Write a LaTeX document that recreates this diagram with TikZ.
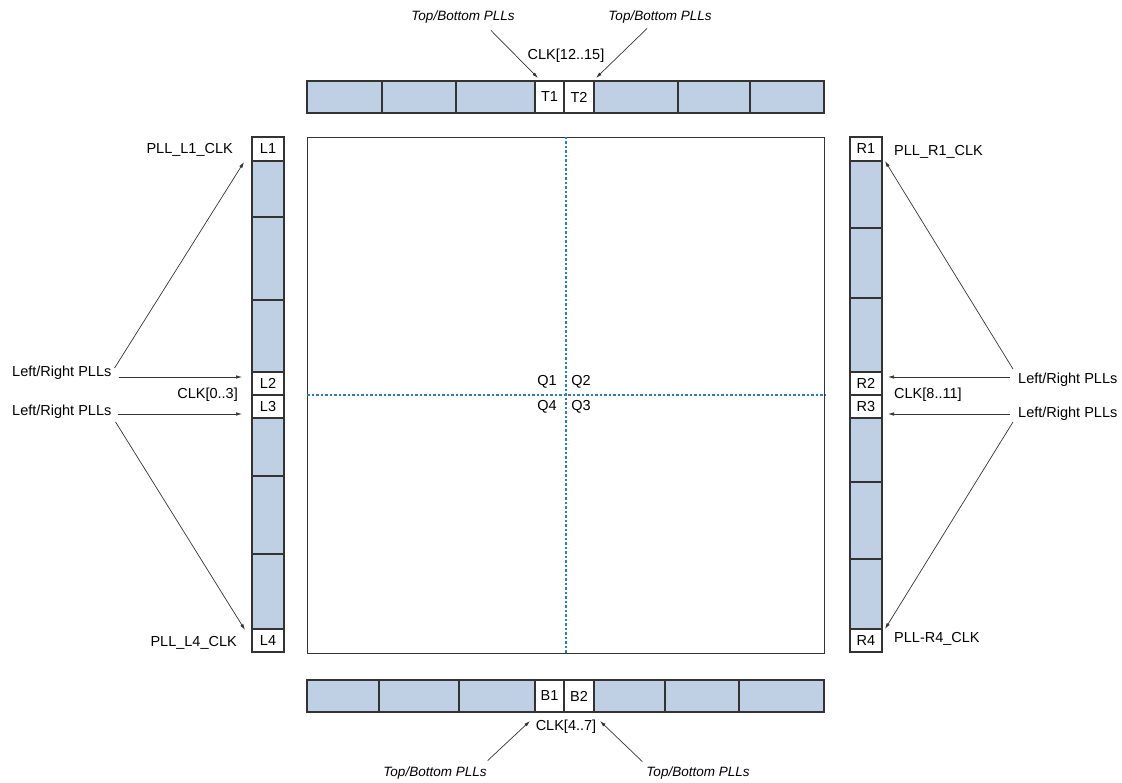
\documentclass[tikz,border=0pt]{standalone}
\usepackage{fontspec}
\setmainfont{Liberation Sans}
\usetikzlibrary{arrows.meta,positioning}
\definecolor{cellblue}{HTML}{BFCFE4}
\definecolor{edge}{HTML}{333333}
\definecolor{qblue}{HTML}{2E7DC2}
\tikzset{
  cell/.style={draw=edge, fill=cellblue, line width=1.2pt},
  pin/.style={draw=edge, fill=white, line width=1.2pt, inner sep=0pt, outer sep=0pt, anchor=north west, font=\fontsize{14.5}{17}\selectfont},
  lbl/.style={inner sep=0pt, font=\fontsize{14.5}{17}\selectfont},
  plls/.style={inner sep=0pt, font=\fontsize{13.5}{16}\selectfont\itshape},
  sig/.style={-{Latex[length=6pt,width=3.5pt]}, line width=0.7pt, draw=edge},
  quad/.style={draw=qblue, line width=1.6pt, dash pattern=on 2.5pt off 2pt},
}
\begin{document}
\begin{tikzpicture}[x=1pt,y=-1pt]
    \useasboundingbox (0,0) rectangle (1122,783);
    % core
    \node[draw=edge, line width=1.3pt, minimum width=517pt, minimum height=516pt, anchor=north west, inner sep=0pt] (core) at (307,137) {};
    \draw[quad] (core.north) -- (core.south);
    \draw[quad] ([yshift=0.5]core.west) -- ([yshift=0.5]core.east);
    \node[lbl] (q1) at (547,382) {Q1};
    \node[lbl] (q2) at (581,382) {Q2};
    \node[lbl] (q4) at (547,407) {Q4};
    \node[lbl] (q3) at (581,407) {Q3};
    % top and bottom rows
    \foreach \a/\b in {307/382, 382/456, 456/535, 594/678, 678/750, 750/824}
      \draw[cell] (\a,81) rectangle (\b,113);
    \foreach \a/\b in {307/379, 379/459, 459/535, 594/665, 665/739, 739/824}
      \draw[cell] (\a,680) rectangle (\b,712);
    \node[pin, minimum width=29pt, minimum height=32pt] (t1) at (535,81) {T1};
    \node[pin, minimum width=30pt, minimum height=32pt] (t2) at (564,81) {T2};
    \node[pin, minimum width=29pt, minimum height=32pt] (b1) at (535,680) {B1};
    \node[pin, minimum width=30pt, minimum height=32pt] (b2) at (564,680) {B2};
    % left and right columns
    \foreach \a/\b in {161/217, 217/300, 300/372, 418/476, 476/554, 554/629}
      \draw[cell] (252,\a) rectangle (284,\b);
    \foreach \a/\b in {161/228, 228/298, 298/372, 418/482, 482/559, 559/629}
      \draw[cell] (850,\a) rectangle (882,\b);
    \node[pin, minimum width=32pt, minimum height=24pt] (l1) at (252,137) {L1};
    \node[pin, minimum width=32pt, minimum height=23pt] (l2) at (252,372) {L2};
    \node[pin, minimum width=32pt, minimum height=23pt] (l3) at (252,395) {L3};
    \node[pin, minimum width=32pt, minimum height=23pt] (l4) at (252,629) {L4};
    \node[pin, minimum width=32pt, minimum height=24pt] (r1) at (850,137) {R1};
    \node[pin, minimum width=32pt, minimum height=23pt] (r2) at (850,372) {R2};
    \node[pin, minimum width=32pt, minimum height=23pt] (r3) at (850,395) {R3};
    \node[pin, minimum width=32pt, minimum height=23pt] (r4) at (850,629) {R4};
    % clock labels
    \node[lbl, anchor=east] (pll1) at (233,150) {PLL\_L1\_CLK};
    \node[lbl, anchor=east] (pll4) at (237,643) {PLL\_L4\_CLK};
    \node[lbl, anchor=west] (plr1) at (894,152) {PLL\_R1\_CLK};
    \node[lbl, anchor=west] (plr4) at (894,639) {PLL-R4\_CLK};
    \node[lbl, anchor=east] (clkl) at (238,395) {CLK[0..3]};
    \node[lbl, anchor=west] (clkr) at (894,395) {CLK[8..11]};
    \node[lbl] (clkt) at (566,56) {CLK[12..15]};
    \node[lbl] (clkb) at (566,727) {CLK[4..7]};
    % PLL sources
    \node[lbl, anchor=west] (lsrc1) at (12,373) {Left/Right PLLs};
    \node[lbl, anchor=west] (lsrc2) at (12,412) {Left/Right PLLs};
    \node[lbl, anchor=west] (rsrc1) at (1018,380) {Left/Right PLLs};
    \node[lbl, anchor=west] (rsrc2) at (1018,414) {Left/Right PLLs};
    \node[plls] (tsrc1) at (463,17) {Top/Bottom PLLs};
    \node[plls] (tsrc2) at (660,17) {Top/Bottom PLLs};
    \node[plls] (bsrc1) at (435,773) {Top/Bottom PLLs};
    \node[plls] (bsrc2) at (698,773) {Top/Bottom PLLs};
    % arrows
    \draw[sig] ([shift={(3,2)}]lsrc1.north east) -- ([shift={(-8,1)}]l1.south west);
    \draw[sig] ([shift={(7,4)}]lsrc1.east) -- ([shift={(-10,5)}]l2.north west);
    \draw[sig] ([shift={(6,2)}]lsrc2.east) -- ([shift={(-10,-4)}]l3.south west);
    \draw[sig] ([shift={(4,3)}]lsrc2.south east) -- ([shift={(-7,1)}]l4.north west);
    \draw[sig] ([shift={(-5,-4)}]rsrc1.north west) -- ([shift={(3,0)}]r1.south east);
    \draw[sig] ([shift={(-8,-3)}]rsrc1.west) -- ([shift={(6,5)}]r2.north east);
    \draw[sig] ([shift={(-8,0)}]rsrc2.west) -- ([shift={(6,-4)}]r3.south east);
    \draw[sig] ([shift={(-5,1)}]rsrc2.south west) -- ([shift={(3,0)}]r4.north east);
    \draw[sig] ([shift={(28,7)}]tsrc1.south) -- ([shift={(3,-3)}]t1.north west);
    \draw[sig] ([shift={(-13,5)}]tsrc2.south) -- ([shift={(2,-3)}]t2.north east);
    \draw[sig] ([shift={(1,-6)}]bsrc1.north east) -- ([shift={(-5,9)}]b1.south west);
    \draw[sig] ([shift={(-4,-5)}]bsrc2.north west) -- ([shift={(6,9)}]b2.south east);
  \end{tikzpicture}
\end{document}
